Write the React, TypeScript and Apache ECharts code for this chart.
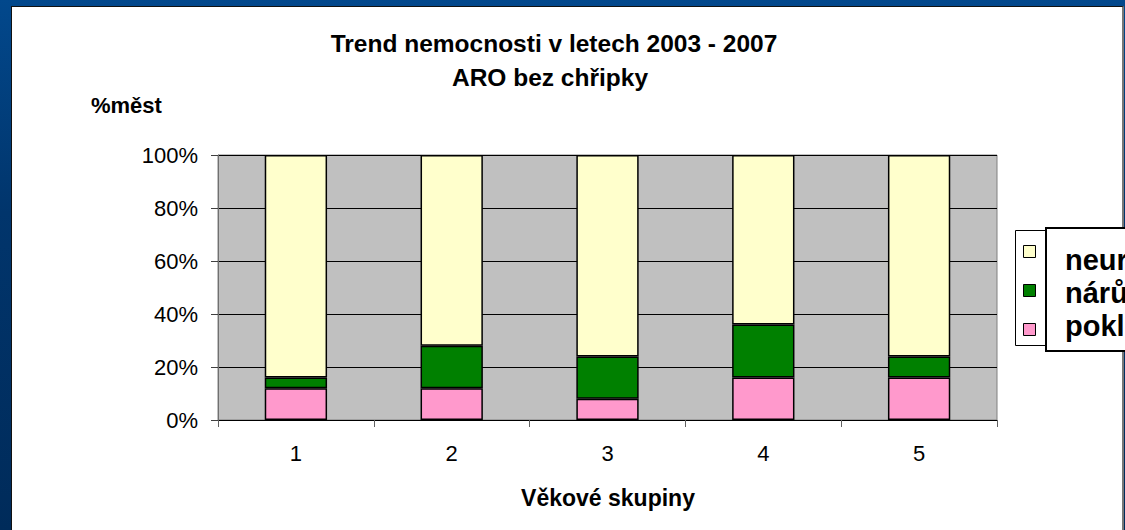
import React, { useEffect, useRef } from "react";
import * as echarts from "echarts";

const categories = ["1", "2", "3", "4", "5"];
const seriesNames = ["neurčitý", "nárůst", "pokles"];
const poklesValues = [12, 12, 8, 16, 16];
const narustValues = [4, 16, 16, 20, 8];
const neurcitoValues = [84, 72, 76, 64, 76];
const yTicks = [0, 20, 40, 60, 80, 100];

const FONT = "'Liberation Sans', Arial, sans-serif";

export default function App() {
  const ref = useRef<HTMLDivElement>(null);

  useEffect(() => {
    if (!ref.current) return;
    const chart = echarts.init(ref.current, null, { renderer: "svg" });
    const barBorder = { borderColor: "#000", borderWidth: 1.5 };
    const legendText = (text: string, y: number) => ({
      type: "text",
      z: 3,
      x: 1065,
      y,
      style: {
        text,
        fontSize: 29,
        fontWeight: "bold",
        fontFamily: FONT,
        fill: "#000",
        align: "left",
        verticalAlign: "bottom",
      },
    });
    chart.setOption({
      animation: false,
      backgroundColor: "transparent",
      textStyle: { fontFamily: FONT },
      grid: {
        left: 218,
        top: 155,
        width: 779,
        height: 265,
        show: true,
        backgroundColor: "#c0c0c0",
        borderColor: "#808080",
        borderWidth: 1,
      },
      legend: {
        orient: "vertical",
        left: 1023,
        top: 245,
        padding: 0,
        itemWidth: 12,
        itemHeight: 12,
        itemGap: 26,
        icon: "rect",
        data: seriesNames,
        formatter: () => "",
        itemStyle: { borderColor: "#000", borderWidth: 1 },
        z: 10,
      },
      xAxis: {
        type: "category",
        data: categories,
        boundaryGap: true,
        axisLine: { lineStyle: { color: "#000", width: 1 } },
        axisTick: { show: true, length: 7, alignWithLabel: false, lineStyle: { color: "#606060" } },
        axisLabel: { fontSize: 22, color: "#000", margin: 22, fontFamily: FONT },
      },
      yAxis: {
        type: "value",
        min: yTicks[0],
        max: yTicks[yTicks.length - 1],
        interval: 20,
        axisLine: { show: true, lineStyle: { color: "#707070", width: 1 } },
        axisTick: { show: true, length: 7, lineStyle: { color: "#404040" } },
        axisLabel: { fontSize: 22, color: "#000", margin: 20, formatter: "{value}%", fontFamily: FONT },
        splitLine: { show: true, lineStyle: { color: "#000", width: 1 } },
      },
      series: [
        {
          name: "pokles",
          type: "bar",
          stack: "s",
          barWidth: "40%",
          data: poklesValues,
          itemStyle: { color: "#ff99cc", ...barBorder },
        },
        {
          name: "nárůst",
          type: "bar",
          stack: "s",
          barWidth: "40%",
          data: narustValues,
          itemStyle: { color: "#008000", ...barBorder },
        },
        {
          name: "neurčitý",
          type: "bar",
          stack: "s",
          barWidth: "40%",
          data: neurcitoValues,
          itemStyle: { color: "#ffffcc", ...barBorder },
        },
      ],
      graphic: [
        {
          type: "text",
          x: 554,
          y: 43,
          style: {
            text: "Trend nemocnosti v letech 2003 - 2007",
            fontSize: 24.5,
            fontWeight: "bold",
            fontFamily: FONT,
            fill: "#000",
            align: "center",
            verticalAlign: "middle",
          },
        },
        {
          type: "text",
          x: 550,
          y: 77,
          style: {
            text: "ARO bez chřipky",
            fontSize: 24.5,
            fontWeight: "bold",
            fontFamily: FONT,
            fill: "#000",
            align: "center",
            verticalAlign: "middle",
          },
        },
        {
          type: "text",
          x: 91,
          y: 105,
          style: {
            text: "%měst",
            fontSize: 22,
            fontWeight: "bold",
            fontFamily: FONT,
            fill: "#000",
            align: "left",
            verticalAlign: "middle",
          },
        },
        {
          type: "text",
          x: 608,
          y: 498,
          style: {
            text: "Věkové skupiny",
            fontSize: 23,
            fontWeight: "bold",
            fontFamily: FONT,
            fill: "#000",
            align: "center",
            verticalAlign: "middle",
          },
        },
        {
          type: "rect",
          z: 1,
          shape: { x: 1015.5, y: 230.5, width: 31, height: 115 },
          style: { fill: "#fff", stroke: "#000", lineWidth: 1 },
        },
        {
          type: "rect",
          z: 2,
          shape: { x: 1046, y: 228, width: 120, height: 123 },
          style: { fill: "#fff", stroke: "#000", lineWidth: 2 },
        },
        legendText("neurčitý", 274),
        legendText("nárůst", 307),
        legendText("pokles", 340),
      ],
    });
    return () => chart.dispose();
  }, []);

  return (
    <div
      style={{
        position: "fixed",
        left: 0,
        top: 0,
        width: 1125,
        height: 530,
        overflow: "hidden",
        background: "linear-gradient(180deg, #02488c 0%, #01356c 40%, #002b5a 100%)",
      }}
    >
      <div
        style={{
          position: "absolute",
          left: 11,
          top: 6,
          width: 1110,
          height: 524,
          background: "#fff",
          borderLeft: "1px solid #111",
          borderTop: "1px solid #111",
          borderRight: "2px solid #777",
        }}
      />
      <div ref={ref} style={{ position: "absolute", left: 0, top: 0, width: 1125, height: 530 }} />
    </div>
  );
}
